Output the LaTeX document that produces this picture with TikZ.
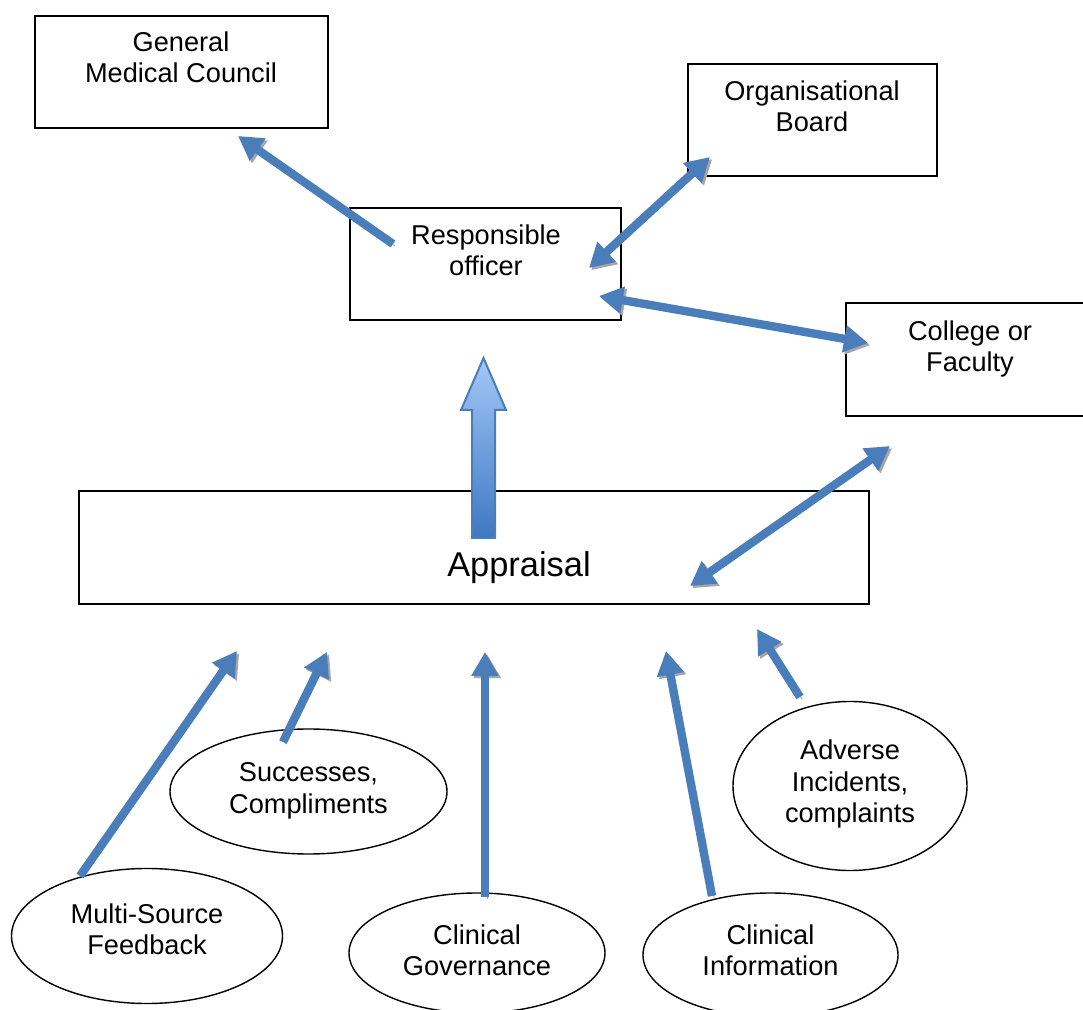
\documentclass[tikz,border=0pt]{standalone}
\usepackage{fontspec}
\setmainfont{Liberation Sans}
\usetikzlibrary{arrows.meta,shapes.geometric}
\definecolor{paper}{HTML}{FFFFFF}
\definecolor{ink}{HTML}{000000}
\definecolor{flowblue}{HTML}{4A7EBB}
\definecolor{flowlight}{HTML}{A3C8F7}
\definecolor{flowdark}{HTML}{3F77C2}
\definecolor{shadowgrey}{HTML}{A6A6A6}
\tikzset{
  panel/.style={draw=ink,line width=.7pt,rectangle,inner sep=0pt},
  bubble/.style={draw=ink,line width=.7pt,ellipse,inner sep=0pt},
  boxtext/.style={align=center,font=\boxfont,inner sep=0pt},
  flow/.style={draw=flowblue,line width=4.2pt,
               -{Triangle[length=12pt,width=13pt]},
               preaction={draw=shadowgrey,
                          transform canvas={shift={(1.1pt,-1.1pt)}}}},
  twoway/.style={flow,{Triangle[length=12pt,width=13pt]}-{Triangle[length=12pt,width=13pt]}},
  every node/.style={text=ink}
}
\newcommand{\boxfont}{\fontsize{13.6}{15.7}\selectfont}
\newcommand{\headfont}{\fontsize{17.2}{19}\selectfont}

\begin{document}
\begin{tikzpicture}[x=.5pt,y=-.5pt]
  \useasboundingbox (0,0) rectangle (1083,1010);
  \fill[paper] (0,0) rectangle (1083,1010);

  % ============================ BOXES ============================
  \node[panel,minimum width=146.5pt,minimum height=56pt] (gmc) at (181.5,72) {};
  \node[boxtext] (gmctxt) at (181,57) {General\\Medical Council};

  \node[panel,minimum width=124.5pt,minimum height=56pt] (board) at (812.5,120) {};
  \node[boxtext] (boardtxt) at (812,106) {Organisational\\Board};

  \node[panel,minimum width=135.5pt,minimum height=56pt] (ro) at (485.5,264) {};
  \node[boxtext] (rotxt) at (486,250) {Responsible\\officer};

  \node[panel,minimum width=124.5pt,minimum height=56.5pt] (college) at (970.5,359.5) {};
  \node[boxtext] (collegetxt) at (970,349) {College or\\Faculty};

  \node[panel,minimum width=395pt,minimum height=56.5pt] (appraisal) at (474,547.5) {};
  \node[boxtext,font=\headfont] (appraisaltxt) at (519,568) {Appraisal};

  % =========================== SOURCES ===========================
  \node[bubble,minimum width=138.5pt,minimum height=62.5pt] (success) at (308.5,791.5) {};
  \node[boxtext] (successtxt) at (308.5,791) {Successes,\\Compliments};

  \node[bubble,minimum width=117pt,minimum height=84.5pt] (adverse) at (850,786) {};
  \node[boxtext] (adversetxt) at (850,784) {Adverse\\Incidents,\\complaints};

  \node[bubble,minimum width=135.5pt,minimum height=67.5pt] (msf) at (147,936) {};
  \node[boxtext] (msftxt) at (147,929.5) {Multi-Source\\Feedback};

  \node[bubble,minimum width=128pt,minimum height=60pt] (govern) at (477,953) {};
  \node[boxtext] (governtxt) at (477,950.5) {Clinical\\Governance};

  \node[bubble,minimum width=127.5pt,minimum height=62pt] (info) at (770.5,955) {};
  \node[boxtext] (infotxt) at (770.5,950.5) {Clinical\\Information};

  % ======================= CONNECTOR ENDS ========================
  \coordinate (rotop) at (393,244);
  \coordinate (gmctip) at (238,136);
  \coordinate (boardtip) at (710,157);
  \coordinate (roright) at (589,268);
  \coordinate (rolow) at (599,296);
  \coordinate (collegetip) at (868,343);
  \coordinate (collegelow) at (890,446);
  \coordinate (appright) at (690,586);
  \coordinate (msfend) at (80,876);
  \coordinate (msftip) at (237,651);
  \coordinate (successend) at (283,742);
  \coordinate (successtip) at (327,652);
  \coordinate (governend) at (485,897);
  \coordinate (governtip) at (485,652);
  \coordinate (infoend) at (712,896);
  \coordinate (infotip) at (666,651);
  \coordinate (adverseend) at (800,697);
  \coordinate (adversetip) at (757,629);

  % ========================= CONNECTORS ==========================
  \draw[flow] (rotop)--(gmctip);
  \draw[twoway] (roright)--(boardtip);
  \draw[twoway] (rolow)--(collegetip);
  \draw[twoway] (appright)--(collegelow);

  \draw[flow] (msfend)--(msftip);
  \draw[flow] (successend)--(successtip);
  \draw[flow] (governend)--(governtip);
  \draw[flow] (infoend)--(infotip);
  \draw[flow] (adverseend)--(adversetip);

  % Block arrow from appraisal up to the responsible officer
  \shade[top color=flowlight,bottom color=flowdark,draw=flowblue,line width=1pt]
    (472,538)--(472,410)--(461,410)--(483.5,358)--(506,410)--(495,410)--(495,538)--cycle;
\end{tikzpicture}
\end{document}
